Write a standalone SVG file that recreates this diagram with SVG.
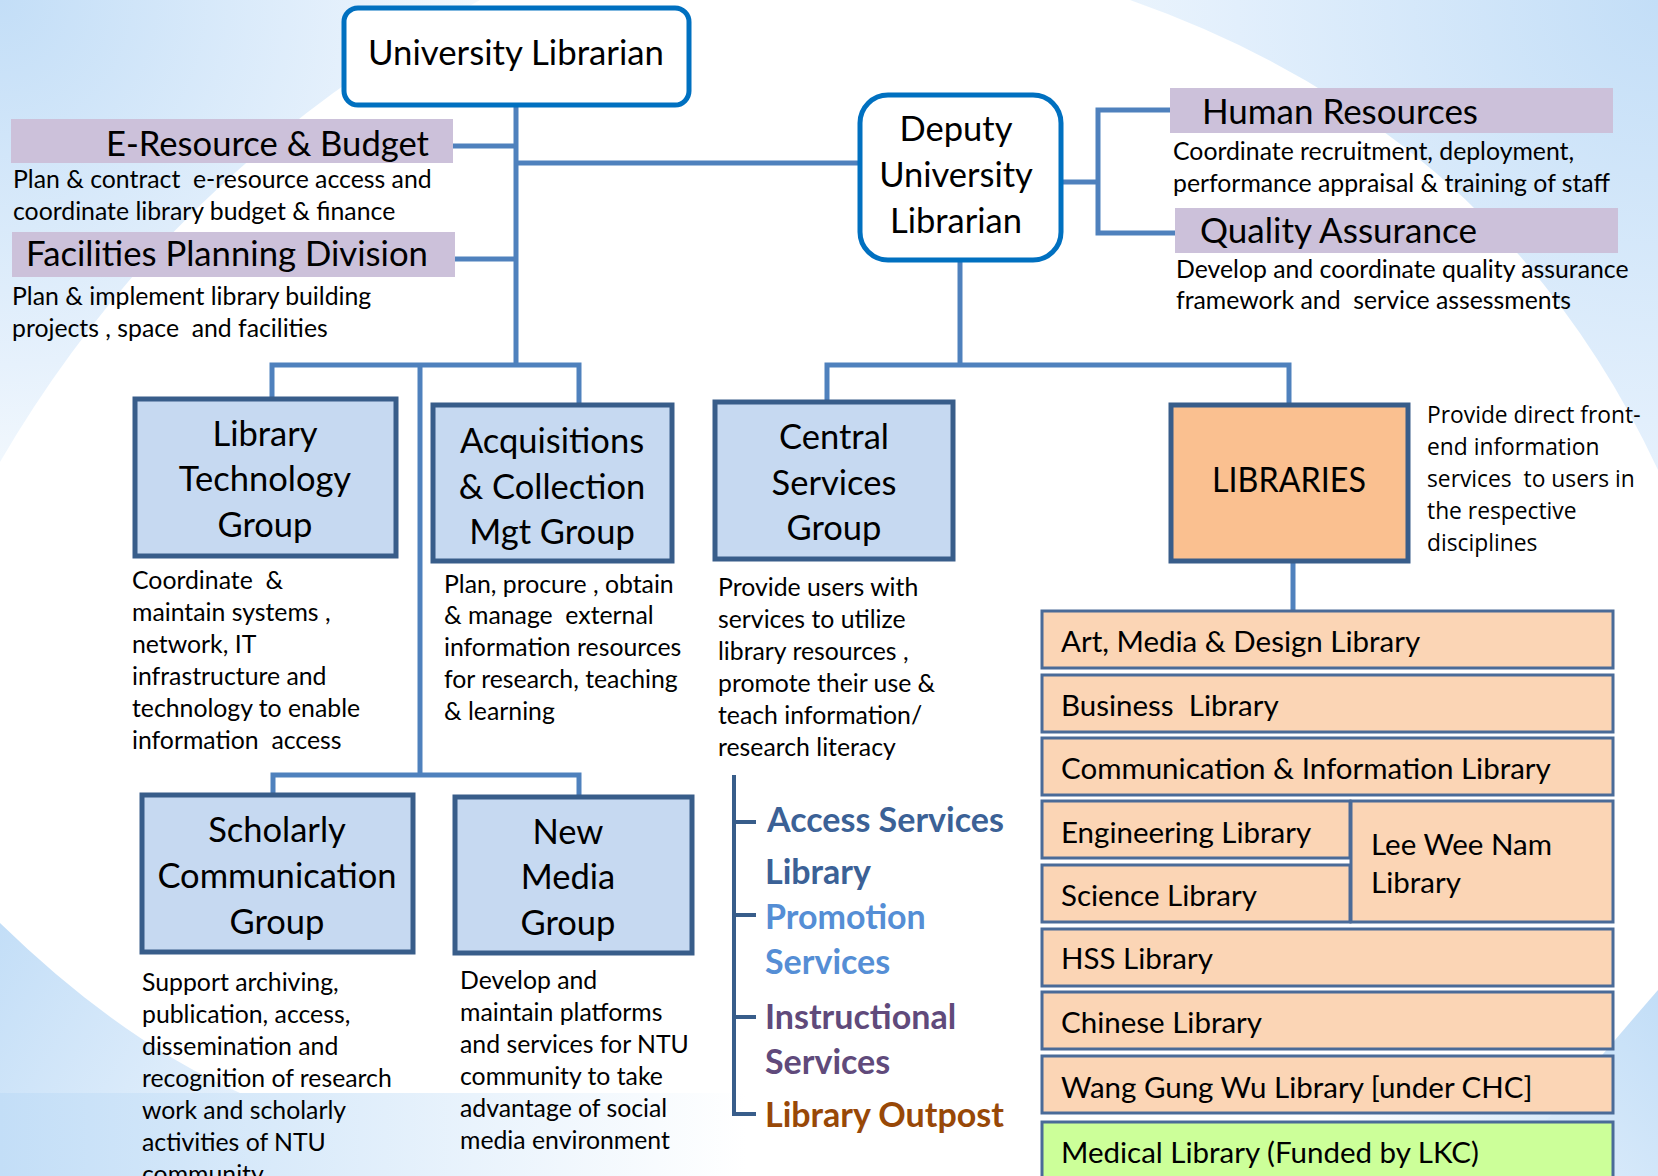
<svg xmlns="http://www.w3.org/2000/svg" width="1658" height="1176" viewBox="0 0 1658 1176">
<defs>
<radialGradient id="gTL" cx="0" cy="0" r="520" gradientUnits="userSpaceOnUse">
<stop offset="0" stop-color="#c3def7"/><stop offset="0.7" stop-color="#e6f1fc"/><stop offset="1" stop-color="#f7fbfe"/>
</radialGradient>
<radialGradient id="gTR" cx="1658" cy="0" r="600" gradientUnits="userSpaceOnUse">
<stop offset="0" stop-color="#c3def7"/><stop offset="0.7" stop-color="#e2effc"/><stop offset="1" stop-color="#eef6fd"/>
</radialGradient>
<linearGradient id="gBand" x1="0" y1="0" x2="1658" y2="0" gradientUnits="userSpaceOnUse">
<stop offset="0" stop-color="#c3def7"/><stop offset="0.45" stop-color="#ffffff"/><stop offset="0.8" stop-color="#ffffff"/><stop offset="1" stop-color="#c9e2f8"/>
</linearGradient>
<linearGradient id="gBL" x1="0" y1="923" x2="260" y2="1093" gradientUnits="userSpaceOnUse">
<stop offset="0" stop-color="#c3def7"/><stop offset="1" stop-color="#e6f1fc"/>
</linearGradient>
<linearGradient id="gBR" x1="1658" y1="1000" x2="1500" y2="1150" gradientUnits="userSpaceOnUse">
<stop offset="0" stop-color="#c3def7"/><stop offset="1" stop-color="#deedfb"/>
</linearGradient>
<style>
.conn{stroke:#4f81bd;stroke-width:5;fill:none;}
.svc{stroke:#385d8a;stroke-width:4;fill:none;}
.top{fill:#ffffff;stroke:#0070c0;stroke-width:5;}
.grp{fill:#c6d9f1;stroke:#385d8a;stroke-width:5;}
.libs{fill:#fac090;stroke:#385d8a;stroke-width:5;}
.band{fill:#ccc1da;}
.lib{fill:#fbd5b5;stroke:#4a6b98;stroke-width:3;}
.med{fill:#ccff99;stroke:#4a6b98;stroke-width:3;}
text{font-family:Lato,"Liberation Sans",sans-serif;fill:#000;}
.big{font-size:34.5px;}
.mid{font-size:29.5px;}
.sm{font-size:24.8px;}
.os{font-family:"Open Sans","Liberation Sans",sans-serif;font-size:22.8px;}
.c{text-anchor:middle;}
.b{font-weight:bold;font-size:34px;}
</style>
</defs>
<g id="background">
<rect x="0" y="0" width="1658" height="1176" fill="#ffffff"/>
<path d="M0,0 L480,0 Q170,170 0,462 Z" fill="url(#gTL)"/>
<path d="M1130,0 L1658,0 L1658,470 Q1500,130 1130,0 Z" fill="url(#gTR)"/>
<path d="M0,923 Q120,1040 240,1093 L0,1093 Z" fill="url(#gBL)"/>
<rect x="0" y="1093" width="1658" height="83" fill="url(#gBand)"/>
<path d="M1658,990 L1658,1176 L1500,1176 Q1580,1080 1658,990 Z" fill="url(#gBR)"/>
</g>
<g id="connectors">
<path class="conn" d="M516,106 V365"/>
<path class="conn" d="M453,146 H516"/>
<path class="conn" d="M455,259 H516"/>
<path class="conn" d="M516,163 H860"/>
<path class="conn" d="M272,398 V365 H579 V404"/>
<path class="conn" d="M420,365 V777"/>
<path class="conn" d="M273,796 V775 H579 V798"/>
<path class="conn" d="M960,261 V365"/>
<path class="conn" d="M827,402 V365 H1289 V405"/>
<path class="conn" d="M1062,182 H1098"/>
<path class="conn" d="M1170,110 H1098 V233 H1175"/>
<path class="conn" d="M1293,562 V611"/>
<path class="svc" d="M734,775 V1114 H756 M734,822 H756 M734,915 H756 M734,1017 H756"/>
</g>
<g id="university-librarian">
<rect class="top" x="344" y="8" width="345" height="97" rx="14"/>
<text class="big c" x="516" y="65" textLength="296" lengthAdjust="spacingAndGlyphs">University Librarian</text>
</g>
<g id="e-resource-budget">
<rect class="band" x="11" y="119" width="442" height="44"/>
<text class="big" x="429" y="156" text-anchor="end" textLength="323" lengthAdjust="spacingAndGlyphs">E-Resource &amp; Budget</text>
<text class="sm" x="13" y="188">Plan &amp; contract &#160;e-resource access and</text>
<text class="sm" x="13" y="220">coordinate library budget &amp; finance</text>
</g>
<g id="facilities-planning">
<rect class="band" x="12" y="232" width="443" height="45"/>
<text class="big" x="26" y="266" textLength="402" lengthAdjust="spacingAndGlyphs">Facilities Planning Division</text>
<text class="sm" x="12" y="305">Plan &amp; implement library building</text>
<text class="sm" x="12" y="337">projects , space &#160;and facilities</text>
</g>
<g id="deputy-university-librarian">
<rect class="top" x="860" y="95" width="201" height="165" rx="28"/>
<text class="big c" x="956" y="141">Deputy</text>
<text class="big c" x="956" y="187">University</text>
<text class="big c" x="956" y="233">Librarian</text>
</g>
<g id="human-resources">
<rect class="band" x="1170" y="88" width="443" height="45"/>
<text class="big" x="1202" y="124" textLength="276" lengthAdjust="spacingAndGlyphs">Human Resources</text>
<text class="sm" x="1173" y="160">Coordinate recruitment, deployment,</text>
<text class="sm" x="1173" y="192">performance appraisal &amp; training of staff</text>
</g>
<g id="quality-assurance">
<rect class="band" x="1175" y="208" width="443" height="45"/>
<text class="big" x="1200" y="243" textLength="277" lengthAdjust="spacingAndGlyphs">Quality Assurance</text>
<text class="sm" x="1176" y="278">Develop and coordinate quality assurance</text>
<text class="sm" x="1176" y="309">framework and &#160;service assessments</text>
</g>
<g id="library-technology-group">
<rect class="grp" x="135" y="399" width="261" height="157"/>
<text class="big c" x="265" y="446">Library</text>
<text class="big c" x="265" y="491">Technology</text>
<text class="big c" x="265" y="537">Group</text>
<text class="sm" x="132" y="589">Coordinate &#160;&amp;</text>
<text class="sm" x="132" y="621">maintain systems ,</text>
<text class="sm" x="132" y="653">network, IT</text>
<text class="sm" x="132" y="685">infrastructure and</text>
<text class="sm" x="132" y="717">technology to enable</text>
<text class="sm" x="132" y="749">information &#160;access</text>
</g>
<g id="acquisitions-collection">
<rect class="grp" x="433" y="405" width="239" height="156"/>
<text class="big c" x="552" y="453">Acquisitions</text>
<text class="big c" x="552" y="499">&amp; Collection</text>
<text class="big c" x="552" y="544">Mgt Group</text>
<text class="sm" x="444" y="593">Plan, procure , obtain</text>
<text class="sm" x="444" y="624">&amp; manage &#160;external</text>
<text class="sm" x="444" y="656">information resources</text>
<text class="sm" x="444" y="688">for research, teaching</text>
<text class="sm" x="444" y="720">&amp; learning</text>
</g>
<g id="central-services-group">
<rect class="grp" x="715" y="402" width="238" height="157"/>
<text class="big c" x="834" y="449">Central</text>
<text class="big c" x="834" y="495">Services</text>
<text class="big c" x="834" y="540">Group</text>
<text class="sm" x="718" y="596">Provide users with</text>
<text class="sm" x="718" y="628">services to utilize</text>
<text class="sm" x="718" y="660">library resources ,</text>
<text class="sm" x="718" y="692">promote their use &amp;</text>
<text class="sm" x="718" y="724">teach information/</text>
<text class="sm" x="718" y="756">research literacy</text>
</g>
<g id="central-services-units">
<text class="b" x="767" y="832" style="fill:#3b6196">Access Services</text>
<text class="b" x="765" y="884" style="fill:#3b6196">Library</text>
<text class="b" x="765" y="929" style="fill:#558ed5">Promotion</text>
<text class="b" x="765" y="974" style="fill:#558ed5">Services</text>
<text class="b" x="765" y="1029" style="fill:#604a7b">Instructional</text>
<text class="b" x="765" y="1074" style="fill:#604a7b">Services</text>
<text class="b" x="765" y="1127" style="fill:#984807">Library Outpost</text>
</g>
<g id="libraries">
<rect class="libs" x="1171" y="405" width="237" height="156"/>
<text class="big c" x="1289" y="492" textLength="154" lengthAdjust="spacingAndGlyphs">LIBRARIES</text>
<text class="os" x="1427" y="423">Provide direct front-</text>
<text class="os" x="1427" y="455">end information</text>
<text class="os" x="1427" y="487">services &#160;to users in</text>
<text class="os" x="1427" y="519">the respective</text>
<text class="os" x="1427" y="551">disciplines</text>
</g>
<g id="scholarly-communication-group">
<rect class="grp" x="142" y="795" width="271" height="157"/>
<text class="big c" x="277" y="842">Scholarly</text>
<text class="big c" x="277" y="888">Communication</text>
<text class="big c" x="277" y="934">Group</text>
<text class="sm" x="142" y="991">Support archiving,</text>
<text class="sm" x="142" y="1023">publication, access,</text>
<text class="sm" x="142" y="1055">dissemination and</text>
<text class="sm" x="142" y="1087">recognition of research</text>
<text class="sm" x="142" y="1119">work and scholarly</text>
<text class="sm" x="142" y="1151">activities of NTU</text>
<text class="sm" x="142" y="1183">community</text>
</g>
<g id="new-media-group">
<rect class="grp" x="455" y="797" width="237" height="156"/>
<text class="big c" x="568" y="844">New</text>
<text class="big c" x="568" y="889">Media</text>
<text class="big c" x="568" y="935">Group</text>
<text class="sm" x="460" y="989">Develop and</text>
<text class="sm" x="460" y="1021">maintain platforms</text>
<text class="sm" x="460" y="1053">and services for NTU</text>
<text class="sm" x="460" y="1085">community to take</text>
<text class="sm" x="460" y="1117">advantage of social</text>
<text class="sm" x="460" y="1149">media environment</text>
</g>
<g id="art-media-design-library">
<rect class="lib" x="1042" y="611" width="571" height="57"/>
<text class="mid" x="1061" y="652">Art, Media &amp; Design Library</text>
</g>
<g id="business-library">
<rect class="lib" x="1042" y="675" width="571" height="57"/>
<text class="mid" x="1061" y="716">Business &#160;Library</text>
</g>
<g id="communication-information-library">
<rect class="lib" x="1042" y="738" width="571" height="57"/>
<text class="mid" x="1061" y="779">Communication &amp; Information Library</text>
</g>
<g id="engineering-library">
<rect class="lib" x="1042" y="801" width="308" height="57"/>
<text class="mid" x="1061" y="843">Engineering Library</text>
</g>
<g id="science-library">
<rect class="lib" x="1042" y="865" width="308" height="57"/>
<text class="mid" x="1061" y="906">Science Library</text>
</g>
<g id="lee-wee-nam-library">
<rect class="lib" x="1351" y="801" width="262" height="121"/>
<text class="mid" x="1371" y="855">Lee Wee Nam</text>
<text class="mid" x="1371" y="893">Library</text>
</g>
<g id="hss-library">
<rect class="lib" x="1042" y="929" width="571" height="57"/>
<text class="mid" x="1061" y="969">HSS Library</text>
</g>
<g id="chinese-library">
<rect class="lib" x="1042" y="992" width="571" height="57"/>
<text class="mid" x="1061" y="1033">Chinese Library</text>
</g>
<g id="wang-gung-wu-library">
<rect class="lib" x="1042" y="1056" width="571" height="57"/>
<text class="mid" x="1061" y="1098">Wang Gung Wu Library [under CHC]</text>
</g>
<g id="medical-library">
<rect class="med" x="1042" y="1122" width="571" height="62"/>
<text class="mid" x="1061" y="1163">Medical Library (Funded by LKC)</text>
</g>
</svg>
